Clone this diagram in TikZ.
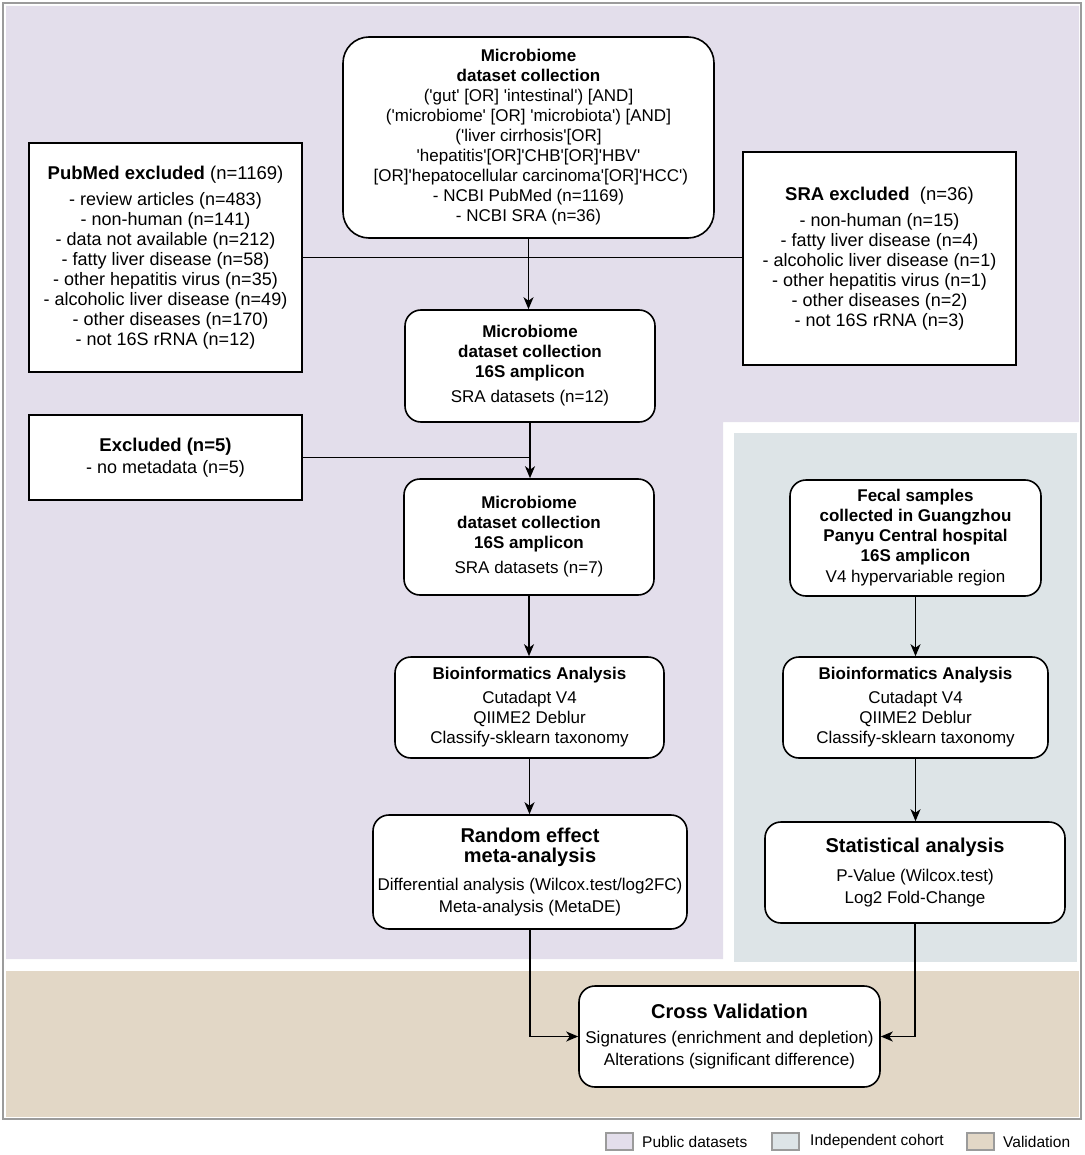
\documentclass[tikz,border=0pt]{standalone}
\usepackage{fontspec}
\setmainfont{Liberation Sans}
\usetikzlibrary{arrows.meta,calc}
\definecolor{pubc}{RGB}{227,222,235}
\definecolor{indc}{RGB}{221,228,231}
\definecolor{valc}{RGB}{226,215,198}
\definecolor{framec}{RGB}{155,155,155}
\newcommand{\q}{\textquotesingle}
\newcommand{\bigf}{\fontsize{20}{20}\selectfont\bfseries}
\begin{document}
\begin{tikzpicture}[x=1pt,y=-1pt,
  box/.style={draw=black, line width=1.6pt, fill=white, rounded corners=16pt, align=center, inner sep=0pt, font=\fontsize{17}{20}\selectfont},
  sqbox/.style={draw=black, line width=1.6pt, fill=white, align=center, inner sep=0pt, font=\fontsize{18}{20}\selectfont},
  arr/.style={line width=1.5pt, -{Stealth[length=12pt,width=10pt,inset=3.5pt]}},
  conn/.style={line width=1.5pt},
  lgd/.style={draw=framec, line width=1.2pt},
  lgdtext/.style={anchor=west, inner sep=0pt, font=\fontsize{15.5}{18}\selectfont}]
\useasboundingbox (0,0) rectangle (1084,1155);
% background regions
\fill[pubc] (6,6) -- (1079,6) -- (1079,422) -- (723,422) -- (723,959) -- (6,959) -- cycle;
\fill[indc] (734,433) rectangle (1077,962);
\fill[valc] (6,971) rectangle (1079,1117);
\draw[framec, line width=1.6pt] (3,3) rectangle (1081,1119);

% left column
\node[box, rounded corners=26pt, minimum width=371pt, minimum height=201pt] (top) at (528.5,137.5)
 {\textbf{Microbiome}\\ \textbf{dataset collection}\\
 (\q{}gut\q{} [OR] \q{}intestinal\q{}) [AND]\\
 (\q{}microbiome\q{} [OR] \q{}microbiota\q{}) [AND]\\
 (\q{}liver cirrhosis\q{}[OR]\\
 \q{}hepatitis\q{}[OR]\q{}CHB\q{}[OR]\q{}HBV\q{}\\{}
 [OR]\q{}hepatocellular carcinoma\q{}[OR]\q{}HCC\q{})\\
 - NCBI PubMed (n=1169)\\
 - NCBI SRA (n=36)};

\node[sqbox, minimum width=273pt, minimum height=229pt] (pub) at (165.5,257.5)
 {{\fontsize{18.5}{20}\selectfont\textbf{PubMed excluded} (n=1169)}\\[6pt]
 - review articles (n=483)\\
 - non-human (n=141)\\
 - data not available (n=212)\\
 - fatty liver disease (n=58)\\
 - other hepatitis virus (n=35)\\
 - alcoholic liver disease (n=49)\\
 \ \ - other diseases (n=170)\\
 - not 16S rRNA (n=12)};

\node[sqbox, minimum width=273pt, minimum height=213pt] (sra) at (879.5,258.5)
 {{\fontsize{18.5}{20}\selectfont\textbf{SRA excluded} \ (n=36)}\\[6pt]
 - non-human (n=15)\\
 - fatty liver disease (n=4)\\
 - alcoholic liver disease (n=1)\\
 - other hepatitis virus (n=1)\\
 - other diseases (n=2)\\
 - not 16S rRNA (n=3)};

\node[box, minimum width=250pt, minimum height=112pt] (b2) at (530,366)
 {\textbf{Microbiome}\\ \textbf{dataset collection}\\ \textbf{16S amplicon}\\[5pt]
 SRA datasets (n=12)};

\node[sqbox, minimum width=273pt, minimum height=85pt] (exc) at (165.5,457.5)
 {{\fontsize{18.5}{20}\selectfont\textbf{Excluded (n=5)}}\\[2pt] - no metadata (n=5)};

\node[box, minimum width=250pt, minimum height=116pt] (b3) at (529,537)
 {\textbf{Microbiome}\\ \textbf{dataset collection}\\ \textbf{16S amplicon}\\[5pt]
 SRA datasets (n=7)};

\node[box, minimum width=269pt, minimum height=101pt] (bioL) at (529.5,707.5)
 {\textbf{Bioinformatics Analysis}\\[4pt] Cutadapt V4\\ QIIME2 Deblur\\ Classify-sklearn taxonomy};

\node[box, minimum width=314pt, minimum height=114pt] (rand) at (530,872)
 {{\bigf Random effect}\\ {\bigf meta-analysis}\\[8pt]
 Differential analysis (Wilcox.test/log2FC)\\[2pt] Meta-analysis (MetaDE)};

% right column
\node[box, minimum width=251pt, minimum height=116pt] (fec) at (915.5,538)
 {\textbf{Fecal samples}\\ \textbf{collected in Guangzhou}\\ \textbf{Panyu Central hospital}\\ \textbf{16S amplicon}\\[1pt]
 V4 hypervariable region};

\node[box, minimum width=265pt, minimum height=101pt] (bioR) at (915.5,707.5)
 {\textbf{Bioinformatics Analysis}\\[4pt] Cutadapt V4\\ QIIME2 Deblur\\ Classify-sklearn taxonomy};

\node[box, minimum width=300pt, minimum height=101pt] (stat) at (915,872.5)
 {{\bigf Statistical analysis}\\[9pt]
 P-Value (Wilcox.test)\\[2pt] Log2 Fold-Change};

\node[box, minimum width=301pt, minimum height=101pt] (cross) at (729.5,1036.5)
 {{\bigf Cross Validation}\\[5pt]
 Signatures (enrichment and depletion)\\[2pt] Alterations (significant difference)};

% connectors
\draw[arr] (top.south) -- (top.south |- b2.north);
\draw[conn] (pub.east) -- (pub.east -| sra.west);
\draw[arr] (b2.south) -- (b2.south |- b3.north);
\coordinate (j1) at (exc.east -| b2.south);
\draw[conn] (exc.east) -- (j1);
\draw[arr] (b3.south) -- (b3.south |- bioL.north);
\draw[arr] (bioL.south) -- (bioL.south |- rand.north);
\draw[arr] (fec.south) -- (fec.south |- bioR.north);
\draw[arr] (bioR.south) -- (bioR.south |- stat.north);
\draw[arr] (rand.south) -- (rand.south |- cross.west) -- (cross.west);
\draw[arr] (stat.south) -- (stat.south |- cross.east) -- (cross.east);

% legend
\draw[lgd, fill=pubc] (606,1133) rectangle (633,1150);
\node[lgdtext] (l1) at (642,1141.5) {Public datasets};
\draw[lgd, fill=indc] (772,1133) rectangle (799,1150);
\node[lgdtext] (l2) at (810,1141.5) {Independent cohort};
\draw[lgd, fill=valc] (967,1133) rectangle (994,1150);
\node[lgdtext] (l3) at (1003,1141.5) {Validation};
\end{tikzpicture}
\end{document}
